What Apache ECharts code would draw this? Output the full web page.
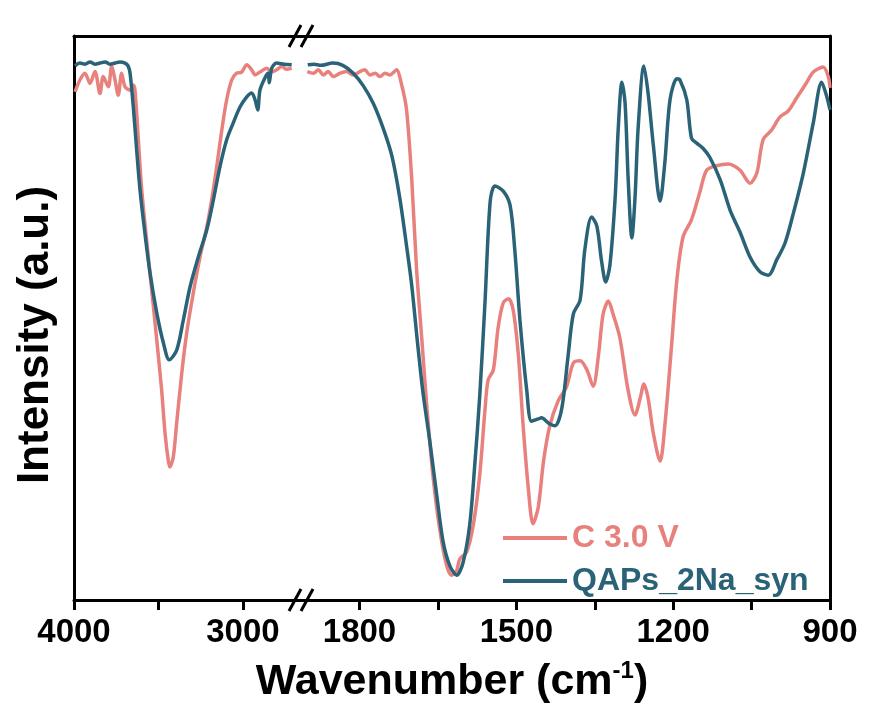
<!DOCTYPE html>
<html>
<head>
<meta charset="utf-8">
<script src="https://cdn.jsdelivr.net/npm/echarts@6/dist/echarts.min.js"></script>
<style>
  html, body { margin: 0; padding: 0; background: #ffffff; }
  #chart { width: 879px; height: 722px; }
</style>
</head>
<body>
<div id="chart"></div>
<script>
// FTIR spectra, broken wavenumber axis: 4000-2650 | 1910-900 cm-1
const seriesNames = ['C 3.0 V', 'QAPs_2Na_syn'];
const seriesColors = ['#E8817E', '#2A6377'];

// [wavenumber, intensity] for the high-wavenumber segment
const c30High = [[3994,90.1],[3965,92.2],[3935,93.4],[3905,91.6],[3876,93.7],[3846,89.8],[3827,92.8],[3797,91.0],[3777,94.6],[3757,92.2],[3738,89.5],[3718,93.4],[3698,91.0],[3668,90.4],[3649,91.3],[3639,90.4],[3619,81.6],[3599,72.7],[3570,63.8],[3540,55.0],[3510,46.1],[3481,37.2],[3461,29.6],[3442,24.8],[3432,23.6],[3412,25.4],[3392,31.4],[3362,40.2],[3333,47.3],[3294,54.4],[3254,60.8],[3214,66.1],[3185,70.9],[3155,76.8],[3125,83.3],[3096,88.7],[3066,92.2],[3037,93.4],[3007,93.6],[2977,94.9],[2948,94.0],[2928,93.1],[2899,93.6],[2859,94.3],[2830,93.6],[2800,94.0],[2770,94.6],[2741,94.1],[2711,94.3]];
const qapsHigh = [[3994,94.7],[3965,95.2],[3935,95.0],[3905,95.4],[3876,95.0],[3846,95.2],[3816,95.4],[3787,95.0],[3757,95.2],[3728,95.4],[3698,95.2],[3680,94.7],[3668,93.4],[3649,87.5],[3629,79.8],[3609,72.7],[3580,65.0],[3550,58.0],[3510,50.9],[3471,45.6],[3436,42.6],[3392,44.3],[3353,49.6],[3313,55.5],[3264,60.8],[3214,65.6],[3175,70.9],[3136,76.8],[3096,81.6],[3057,84.6],[3017,87.4],[2977,89.2],[2948,89.9],[2928,88.7],[2912,86.9],[2899,90.4],[2869,92.6],[2850,93.4],[2844,91.7],[2829,94.3],[2800,95.2],[2757,95.0],[2711,94.9]];

// [wavenumber, intensity] for the fingerprint segment
const c30Low = [[1900,93.7],[1888,93.4],[1879,94.0],[1869,93.1],[1860,93.7],[1850,92.8],[1837,93.4],[1825,93.7],[1812,93.1],[1799,93.7],[1790,94.0],[1780,93.1],[1770,93.4],[1761,92.8],[1751,93.4],[1742,93.1],[1732,93.8],[1729,94.0],[1719,91.2],[1710,86.9],[1700,74.5],[1691,58.9],[1681,46.5],[1671,34.0],[1659,21.6],[1646,12.2],[1633,6.0],[1624,4.4],[1615,5.0],[1608,7.3],[1595,8.5],[1582,13.5],[1570,22.2],[1560,33.7],[1554,39.0],[1544,40.8],[1535,48.2],[1525,52.7],[1515,53.4],[1506,51.4],[1496,43.3],[1487,30.9],[1477,19.7],[1468,13.5],[1458,16.5],[1448,24.6],[1436,30.9],[1420,35.3],[1404,37.8],[1391,42.0],[1378,42.4],[1365,40.8],[1353,37.9],[1343,43.3],[1334,50.7],[1324,53.0],[1315,50.7],[1302,46.5],[1286,37.1],[1273,32.8],[1263,35.8],[1256,38.3],[1248,35.8],[1238,29.6],[1225,24.6],[1216,30.9],[1203,45.2],[1193,56.7],[1181,64.4],[1165,67.4],[1149,72.3],[1136,76.2],[1117,77.0],[1095,77.3],[1072,76.2],[1053,73.9],[1040,75.7],[1028,81.6],[1012,83.3],[996,85.6],[980,86.7],[964,89.0],[945,91.7],[932,93.6],[913,94.5],[903,92.7],[900,90.8]];
const qapsLow = [[1899,94.9],[1887,95.0],[1874,94.8],[1851,95.2],[1832,94.8],[1812,93.4],[1793,91.2],[1774,88.1],[1755,83.7],[1738,78.7],[1723,71.3],[1709,62.1],[1700,55.7],[1690,46.5],[1679,37.1],[1665,27.8],[1652,18.4],[1640,10.3],[1627,6.0],[1614,4.4],[1602,6.6],[1589,13.5],[1579,24.6],[1570,36.2],[1560,52.7],[1550,70.7],[1541,73.4],[1525,72.5],[1512,70.0],[1503,62.1],[1493,49.5],[1480,37.1],[1471,31.7],[1458,32.1],[1452,32.3],[1439,31.4],[1426,30.9],[1413,34.0],[1401,43.3],[1391,50.7],[1378,53.2],[1369,62.1],[1356,67.9],[1346,66.3],[1337,60.1],[1329,56.4],[1321,59.4],[1311,71.3],[1305,83.7],[1298,91.8],[1292,88.1],[1286,74.5],[1279,64.2],[1273,71.3],[1267,83.7],[1256,94.7],[1248,89.9],[1238,80.7],[1225,70.7],[1216,77.5],[1206,88.7],[1193,92.4],[1187,92.2],[1174,88.7],[1165,81.9],[1155,81.0],[1143,80.1],[1130,78.5],[1110,74.5],[1091,69.1],[1072,65.2],[1053,60.8],[1034,58.2],[1018,57.6],[1002,60.3],[986,63.3],[970,68.6],[951,75.7],[932,84.6],[916,91.8],[906,89.2],[900,86.9]];

// axis ranges and ticks
const highRange = [2650, 4000];
const lowRange = [900, 1910];
const highTicks = [4000, 3500, 3000];
const highLabels = [4000, 3000];
const lowTicks = [1800, 1650, 1500, 1350, 1200, 1050, 900];
const lowLabels = [1800, 1500, 1200, 900];

const FONT = '"Liberation Sans", Arial, Helvetica, sans-serif';
const AXIS_W = 3;

const chart = echarts.init(document.getElementById('chart'), null, { renderer: 'canvas' });

function bottomAxis(grid, range, ticks, labels) {
  return {
    type: 'value', gridIndex: grid, position: 'bottom', inverse: true,
    min: range[0], max: range[1],
    axisLine: { show: true, onZero: false, lineStyle: { color: '#000', width: AXIS_W } },
    axisTick: { show: true, inside: false, length: 10, customValues: ticks, lineStyle: { color: '#000', width: AXIS_W } },
    axisLabel: {
      show: true, customValues: labels, margin: 16, color: '#000',
      fontSize: 33, fontWeight: 'bold', fontFamily: FONT,
      formatter: function (v) { return String(v); }
    },
    splitLine: { show: false }
  };
}
function topAxis(grid, range) {
  return {
    type: 'value', gridIndex: grid, position: 'top', inverse: true,
    min: range[0], max: range[1],
    axisLine: { show: true, onZero: false, lineStyle: { color: '#000', width: AXIS_W } },
    axisTick: { show: false }, axisLabel: { show: false }, splitLine: { show: false }
  };
}

function lineSeries(name, color, xi, data) {
  return {
    name: name, type: 'line', xAxisIndex: xi, yAxisIndex: xi < 2 ? 0 : 1,
    data: data, symbol: 'none', smooth: 0.3, clip: true,
    lineStyle: { color: color, width: 3.5 }, itemStyle: { color: color }
  };
}

// "//" break marks across the top and bottom frame lines
const breakMarks = [];
[36, 600].forEach(function (y) {
  [295, 307].forEach(function (cx) {
    breakMarks.push({
      type: 'line', z: 100,
      shape: { x1: cx - 6, y1: y + 11, x2: cx + 6, y2: y - 11 },
      style: { stroke: '#000', lineWidth: 3 }
    });
  });
});

chart.setOption({
  backgroundColor: '#ffffff',
  animation: false,
  grid: [
    { left: 74, top: 36, width: 228, height: 564 },
    { left: 302, top: 36, width: 528, height: 564 }
  ],
  xAxis: [
    bottomAxis(0, highRange, highTicks, highLabels),
    topAxis(0, highRange),
    bottomAxis(1, lowRange, lowTicks, lowLabels),
    topAxis(1, lowRange)
  ],
  yAxis: [
    {
      type: 'value', gridIndex: 0, min: 0, max: 100, position: 'left',
      axisLine: { show: true, onZero: false, lineStyle: { color: '#000', width: AXIS_W } },
      axisTick: { show: false }, axisLabel: { show: false }, splitLine: { show: false },
      name: 'Intensity (a.u.)', nameLocation: 'middle', nameGap: 16,
      nameTextStyle: { color: '#000', fontSize: 44, fontWeight: 'bold', fontFamily: FONT, padding: [0, 34, 0, 0] }
    },
    {
      type: 'value', gridIndex: 1, min: 0, max: 100, position: 'right',
      axisLine: { show: true, onZero: false, lineStyle: { color: '#000', width: AXIS_W } },
      axisTick: { show: false }, axisLabel: { show: false }, splitLine: { show: false }
    }
  ],
  legend: {
    orient: 'vertical', left: 498, top: 517,
    itemWidth: 64, itemHeight: 20, itemGap: 11,
    icon: 'path://M0,8 L64,8 L64,12 L0,12 Z',
    textStyle: { fontSize: 32, fontWeight: 'bold', fontFamily: FONT, lineHeight: 32 },
    data: [
      { name: seriesNames[0], textStyle: { color: seriesColors[0] } },
      { name: seriesNames[1], textStyle: { color: seriesColors[1] } }
    ]
  },
  graphic: breakMarks.concat([{
    type: 'text', z: 100,
    x: 452, y: 682,
    style: {
      text: '{a|Wavenumber (cm}{s|-1}{a|)}',
      x: 0, y: 0, textAlign: 'center', textVerticalAlign: 'middle',
      fill: '#000',
      rich: {
        a: { fontSize: 43, fontWeight: 'bold', fontFamily: FONT, fill: '#000', lineHeight: 46 },
        s: { fontSize: 24, fontWeight: 'bold', fontFamily: FONT, fill: '#000', verticalAlign: 'top', lineHeight: 24, padding: [0, 0, 28, 0] }
      }
    }
  }]),
  series: [
    lineSeries(seriesNames[0], seriesColors[0], 0, c30High),
    lineSeries(seriesNames[0], seriesColors[0], 2, c30Low),
    lineSeries(seriesNames[1], seriesColors[1], 0, qapsHigh),
    lineSeries(seriesNames[1], seriesColors[1], 2, qapsLow)
  ]
});
</script>
</body>
</html>
